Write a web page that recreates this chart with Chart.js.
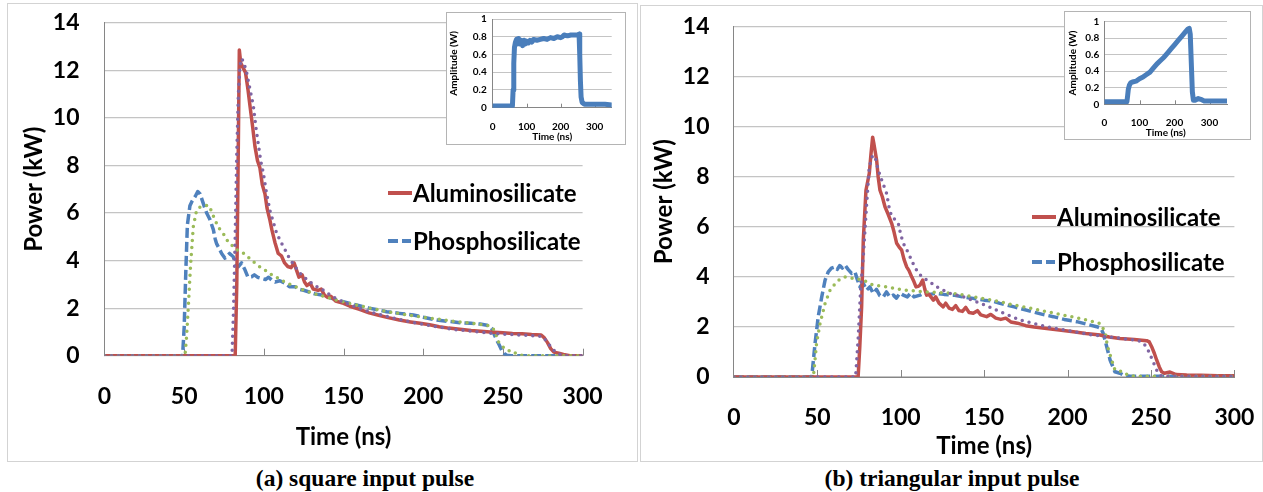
<!DOCTYPE html>
<html><head><meta charset="utf-8">
<script src="https://cdn.jsdelivr.net/npm/chart.js@4.4.1/dist/chart.umd.min.js"></script>
<style>
html,body{margin:0;padding:0;background:#fff;}
body{width:1263px;height:492px;position:relative;overflow:hidden;font-family:Lato,sans-serif;}
.frame{position:absolute;box-sizing:border-box;border:1.5px solid #d3d3d3;}
.inframe{position:absolute;box-sizing:border-box;border:1px solid #b4b4b4;background:#fff;}
canvas{position:absolute;}
.leg{position:absolute;font:bold 24px Lato;line-height:30px;height:30px;color:#000;white-space:nowrap;}
.ln{position:absolute;height:4px;}
.cap{position:absolute;font:bold 23.5px "Liberation Serif";text-align:center;width:400px;line-height:26px;color:#000;}
</style></head><body>
<div class="frame" style="left:7px;top:3px;width:631px;height:459px;"></div>
<div class="frame" style="left:640px;top:5px;width:623px;height:457px;"></div>
<canvas id="mainA" width="628" height="457" style="left:8px;top:4px;width:628px;height:457px;"></canvas>
<canvas id="mainB" width="621" height="456" style="left:641px;top:5px;width:621px;height:456px;"></canvas>
<div class="inframe" style="left:446px;top:12px;width:180px;height:133px;"></div>
<canvas id="insA" width="178" height="131" style="left:447px;top:13px;width:178px;height:131px;"></canvas>
<div class="inframe" style="left:1064px;top:11px;width:187px;height:129px;"></div>
<canvas id="insB" width="184" height="127" style="left:1065px;top:12px;width:184px;height:127px;"></canvas>

<div class="ln" style="left:388px;top:191px;width:24px;background:#C0504D;"></div>
<div class="leg" style="left:413px;top:178px;">Aluminosilicate</div>
<div class="ln" style="left:388px;top:239px;width:10px;background:#4F81BD;"></div>
<div class="ln" style="left:402px;top:239px;width:9px;background:#4F81BD;"></div>
<div class="leg" style="left:413px;top:226px;">Phosphosilicate</div>

<div class="ln" style="left:1032px;top:215px;width:24px;background:#C0504D;"></div>
<div class="leg" style="left:1057px;top:202px;">Aluminosilicate</div>
<div class="ln" style="left:1032px;top:260px;width:10px;background:#4F81BD;"></div>
<div class="ln" style="left:1046px;top:260px;width:9px;background:#4F81BD;"></div>
<div class="leg" style="left:1057px;top:247px;">Phosphosilicate</div>

<div class="cap" style="left:165px;top:465px;">(a) square input pulse</div>
<div class="cap" style="left:752px;top:465px;">(b) triangular input pulse</div>

<script>
// ---------- Panel (a): square input pulse ----------
const tA_al = [0,82,83,84,84.6,85.5,87,88.5,90,91.3,93,94.4,96,97.5,99,100.7,102,103.8,105,107,109,111,113,115,117,119,120.5,122,124,125.5,127,129,131,134,136,138,140,142,145,150,154,160,166,172,178,185,192,198,204,210,216,223,230,236,242,250,256,262,268,274,276,278,280,282,285,288,292,300];
const pA_al = [0,0,3,9,12.85,12.3,12.1,11.9,11.2,10.5,9.6,8.8,8.2,7.9,7.2,6.8,6.2,5.7,5.3,4.75,4.3,4.2,3.9,3.75,3.7,3.9,3.6,3.3,3.4,3.1,2.95,3.05,2.8,2.75,2.8,2.55,2.45,2.5,2.3,2.2,2.08,1.95,1.8,1.7,1.6,1.5,1.42,1.36,1.3,1.22,1.16,1.11,1.06,1.03,1.0,0.96,0.93,0.92,0.89,0.87,0.75,0.55,0.3,0.15,0.1,0.05,0,0];

const tA_alSim = [0,80,81,82,83,84,85,86.1,87.5,89.2,91,93.4,95,96.5,98,99.6,101.5,103.8,106,108,110.5,113.3,116,119.5,123,127.9,132,136.3,142.6,150,160,170,180,190,200,210,220,230,240,250,260,270,275,278,280,283,286,290,300];
const pA_alSim = [0,0,2,5,8.5,11,12.2,12.5,12.3,11.9,11.3,10.5,9.6,8.9,8.2,7.7,6.9,6.1,5.6,5.15,4.8,4.45,4.1,3.75,3.45,3.15,2.95,2.8,2.5,2.25,1.98,1.78,1.6,1.45,1.32,1.2,1.1,1.03,0.96,0.91,0.87,0.84,0.8,0.55,0.38,0.15,0.05,0,0];

const tA_ph = [0,49,50,51,52,53.6,55,57,58.5,60,61.5,63,64.1,66,68.3,69.5,70.4,72,73.5,75.6,77,78.5,80.8,82,84,86,88.2,90,92.3,94,96,98.6,101,103,104.9,107,110,113.3,116,119.5,122,125,127.9,132,136.3,142.6,148,154,160,166,172,177,185,193.8,200,208.4,215,223,230,235.6,240,242.9,244.5,246.1,247.7,249.2,251,252.4,255,300];
const pA_ph = [0,0,1.2,3.5,5.5,6.3,6.5,6.7,6.9,6.8,6.5,6.2,6.0,5.75,5.3,4.9,4.7,4.5,4.3,4.1,4.2,4.3,4.16,3.9,3.74,3.9,3.6,3.3,3.32,3.4,3.3,3.25,3.2,3.3,3.18,3.1,3.15,3.05,2.9,2.9,2.8,2.75,2.69,2.6,2.55,2.41,2.3,2.2,2.1,2.0,1.92,1.85,1.78,1.71,1.62,1.5,1.45,1.39,1.36,1.33,1.28,1.15,0.9,0.66,0.45,0.24,0.08,0.02,0,0];

const tA_phSim = [0,50.5,51.5,52.6,54,55.7,57.8,60,62.5,65.1,67,69.3,72,74.5,77,80.8,83,86.1,89,92.3,96,100.7,105,109.1,113,117.5,122,127.9,133,138.4,145,152,160,170,180,190,200,210,220,230,238,242,245,247,249,251,254,256.5,258,261,265,300];
const pA_phSim = [0,0,0.8,2.06,3.8,5.42,6.12,6.25,6.3,6.33,6.1,5.7,5.35,5.14,4.85,4.58,4.45,4.37,4.2,4.02,3.8,3.6,3.4,3.25,3.1,2.97,2.83,2.69,2.58,2.48,2.35,2.22,2.1,1.95,1.82,1.72,1.62,1.53,1.44,1.37,1.3,1.25,1.05,0.6,0.45,0.3,0.2,0.2,0.1,0.02,0,0];

const tA_in = [0,20,40,58,60,62,64,67,70,73,76,80,84,88,92,96,100,105,110,115,120,130,140,150,160,170,180,190,200,205,210,220,230,240,250,254,256,258,260,263,270,300,330,350];
const aA_in = [0.02,0.02,0.02,0.02,0.2,0.5,0.68,0.74,0.77,0.72,0.78,0.72,0.76,0.7,0.76,0.72,0.75,0.73,0.76,0.74,0.77,0.76,0.77,0.78,0.77,0.79,0.78,0.8,0.79,0.8,0.82,0.81,0.82,0.82,0.82,0.83,0.6,0.3,0.12,0.06,0.04,0.04,0.04,0.03];

// ---------- Panel (b): triangular input pulse ----------
const tB_al = [0,74.5,75.5,76.6,77.6,79.2,80.5,81.2,82.2,83.2,84,85.6,86.5,87.6,89,90.6,92.5,94.6,96,97.6,99,100.6,102,103.6,105,106.6,108,109.2,110.5,111.6,113.2,114.5,115.6,117,119.6,121,123,125.5,127,129,131,133,135,137,139,141,143.5,146,148,151.5,154,157,160,163,166,170,175,180,187.5,195,203.5,211,219.5,225,231.4,240,247.4,249,250.4,252,253.4,255,256.4,258,261.4,265,271.4,280,290,300];
const pB_al = [0,0,1.2,2.8,5.47,7.46,7.9,8.13,8.9,9.58,9.3,8.66,8.0,7.46,7.2,6.8,6.5,6.14,5.8,5.34,5.2,5.07,4.7,4.4,4.25,4.0,3.8,3.6,3.62,3.67,3.87,3.5,3.27,3.3,3.07,3.2,2.95,2.8,2.95,2.75,2.7,2.85,2.65,2.62,2.78,2.58,2.55,2.65,2.48,2.41,2.5,2.35,2.3,2.35,2.2,2.15,2.05,2.0,1.94,1.88,1.81,1.74,1.68,1.6,1.54,1.5,1.45,1.4,1.21,0.95,0.68,0.4,0.21,0.15,0.2,0.1,0.08,0.07,0.05,0.05];

const tB_alSim = [0,73,74.5,76,77.6,79.5,81.2,83.2,85,86.6,89,91.6,93,94.6,96.5,98.6,100,101.6,103.5,105.6,108,110.6,113,115.6,118.5,121.6,125,129.6,133,137.5,145.5,151.5,159.5,171.5,187.5,203.5,213,223.5,231,239.4,244,247.4,250.4,253.4,256,260,300];
const pB_alSim = [0,0,1.5,3.5,4.8,6.8,8.4,8.86,8.7,8.26,7.8,7.33,6.8,6.4,6.3,6.14,5.7,5.34,5.1,4.8,4.45,4.14,4.0,3.87,3.75,3.6,3.48,3.34,3.28,3.2,3.0,2.85,2.61,2.28,2.01,1.81,1.7,1.61,1.55,1.48,1.42,1.21,0.75,0.28,0.05,0.03,0.03];

const tB_ph = [0,46.7,48.7,50.6,52.7,54.7,56.6,58.5,60.6,62,63.5,65,66.6,68.5,70.6,72.6,74,75.6,77.5,79.6,81.5,83.6,85.5,87.5,89.6,91.5,93.5,95.6,97.5,99.5,101.6,104,106,108,111.6,114,117,121.6,126,131.6,137,143.5,150,155,159.5,168,177.5,185,191.5,198,205.5,212,217.5,220,221.4,223.5,225.5,228.4,231.4,234,237.4,300];
const pB_ph = [0,0,1.35,2.41,3.2,3.87,4.2,4.35,4.4,4.3,4.45,4.35,4.47,4.3,4.14,4.2,3.9,3.6,3.75,3.47,3.6,3.34,3.5,3.25,3.2,3.4,3.2,3.27,3.15,3.35,3.27,3.2,3.35,3.2,3.27,3.35,3.3,3.34,3.3,3.27,3.2,3.14,3.07,3.03,2.94,2.8,2.63,2.5,2.41,2.3,2.21,2.1,2.01,1.95,1.74,1.21,0.68,0.21,0.15,0.06,0.03,0.03];

const tB_phSim = [0,47.7,49.6,51.7,54.7,57.7,61.6,64,66.6,71.6,77.6,83.6,91.6,101.6,115.6,131.6,147.5,160,167.5,180,187.5,200,207.5,219.5,222.4,224,226.5,228.4,233.4,236,240,300];
const pB_phSim = [0,0,1.35,2.14,2.94,3.47,3.8,3.92,4.0,3.94,3.87,3.67,3.6,3.47,3.4,3.34,3.16,3.0,2.88,2.72,2.61,2.44,2.34,2.14,1.81,1.21,0.68,0.28,0.21,0.08,0.03,0.03];

const tB_in = [0,30,64,66,68,71,75,80,90,100,110,120,130,140,150,160,170,180,190,200,210,220,230,238,242,245,248,251,254,260,268,275,285,300,350];
const aB_in = [0.03,0.03,0.03,0.1,0.18,0.23,0.26,0.27,0.28,0.31,0.33,0.36,0.39,0.44,0.49,0.53,0.57,0.62,0.67,0.72,0.77,0.82,0.87,0.91,0.92,0.85,0.5,0.15,0.05,0.05,0.07,0.06,0.04,0.04,0.04];

// tick labels
const mainXTicks = [0,50,100,150,200,250,300];
const mainYTicks = [0,2,4,6,8,10,12,14];
const insetXTicks = [0,100,200,300];
const insetYTicks = [0,0.2,0.4,0.6,0.8,1];

// ---------- drawing ----------
Chart.defaults.font.family = 'Lato';
const AXIS = '#868686';
const insideTicks = {
  id:'insideTicks',
  beforeDatasetsDraw(chart, args, opts){
    const x = chart.scales.x, y = chart.scales.y, ctx = chart.ctx;
    ctx.save(); ctx.strokeStyle = AXIS; ctx.lineWidth = 1;
    x.ticks.forEach(t=>{
      if (t.value === x.min) return;
      const px = Math.round(x.getPixelForValue(t.value)) + 0.5;
      ctx.beginPath(); ctx.moveTo(px, y.bottom); ctx.lineTo(px, y.bottom - opts.len); ctx.stroke();
    });
    ctx.restore();
  }
};
function pts(T,V){ return T.map((t,i)=>({x:t,y:V[i]})); }
function ds(T,V,color,kind){
  const d = {data:pts(T,V), borderColor:color, backgroundColor:color, pointRadius:0, borderWidth:3.5, fill:false, tension:0, borderJoinStyle:'round'};
  if (kind==='dash') d.borderDash = [10,4];
  if (kind==='dot') { d.borderDash = [0,7]; d.borderCapStyle = 'round'; }
  return d;
}
function tickList(list){ return s => { s.ticks = list.map(v=>({value:v})); }; }
function fixX(h){ return s => { s.height = h; s.paddingLeft = 0; s.paddingRight = 0; s.paddingTop = 0; s.paddingBottom = 0; }; }
function fixY(w){ return s => { s.width = w; s.paddingLeft = 0; s.paddingRight = 0; s.paddingTop = 0; s.paddingBottom = 0; }; }
const fmt = v => String(Math.round(v*10)/10);

function mainChart(id, sets, g){
  return new Chart(document.getElementById(id), {
    type:'line', data:{datasets:sets},
    options:{
      responsive:false, animation:false, events:[],
      layout:{padding:{left:0, top:g.padTop, right:g.padRight, bottom:0}},
      plugins:{legend:{display:false}, tooltip:{enabled:false}, insideTicks:{len:7}},
      scales:{
        x:{type:'linear', min:0, max:300, afterBuildTicks:tickList(mainXTicks),
           ticks:{padding:g.xTickPad, color:'#000', font:{size:23, weight:'bold'}, maxRotation:0, autoSkip:false, callback:fmt},
           grid:{display:false, drawTicks:false}, border:{display:true, color:AXIS, width:1},
           title:{display:true, text:'Time (ns)', color:'#000', font:{size:24, weight:'bold'}, padding:{top:0, bottom:g.xTitlePad}},
           afterFit:fixX(g.xH)},
        y:{type:'linear', min:0, max:14, afterBuildTicks:tickList(mainYTicks),
           ticks:{padding:g.yTickPad, color:'#000', font:{size:23, weight:'bold'}, callback:fmt},
           grid:{color:'#c4c4c4', lineWidth:1.2, drawTicks:false}, border:{display:true, color:AXIS, width:1},
           title:{display:true, text:'Power (kW)', color:'#000', font:{size:24, weight:'bold'}, padding:{top:g.yTitlePad, bottom:0}},
           afterFit:fixY(g.yW)}
      }
    },
    plugins:[insideTicks]
  });
}
function insetChart(id, T, V, g){
  return new Chart(document.getElementById(id), {
    type:'line', data:{datasets:[{data:pts(T,V), borderColor:'#4A7EBB', borderWidth:5, pointRadius:0, tension:0, borderJoinStyle:'round', borderCapStyle:'round'}]},
    options:{
      responsive:false, animation:false, events:[],
      layout:{padding:{left:0, top:g.padTop, right:g.padRight, bottom:0}},
      plugins:{legend:{display:false}, tooltip:{enabled:false}, insideTicks:{len:4}},
      scales:{
        x:{type:'linear', min:0, max:350, afterBuildTicks:tickList(insetXTicks),
           ticks:{padding:g.xTickPad, color:'#000', font:{size:10, weight:'bold'}, maxRotation:0, autoSkip:false, callback:fmt},
           grid:{display:false, drawTicks:false}, border:{display:true, color:AXIS, width:1},
           title:{display:true, text:'Time (ns)', color:'#000', font:{size:10, weight:'bold'}, padding:{top:0, bottom:g.xTitlePad}},
           afterFit:fixX(g.xH)},
        y:{type:'linear', min:0, max:1, afterBuildTicks:tickList(insetYTicks),
           ticks:{padding:g.yTickPad, color:'#000', font:{size:10, weight:'bold'}, callback:fmt},
           grid:{color:'#c4c4c4', lineWidth:1, drawTicks:false}, border:{display:true, color:AXIS, width:1},
           title:{display:true, text:'Amplitude (W)', color:'#000', font:{size:10, weight:'bold'}, padding:{top:g.yTitlePad, bottom:0}},
           afterFit:fixY(g.yW)}
      }
    },
    plugins:[insideTicks]
  });
}

const RED='#C0504D', BLUE='#4F81BD', PURPLE='#8064A2', GREEN='#9BBB59';
mainChart('mainA', [
  ds(tA_alSim,pA_alSim,PURPLE,'dot'), ds(tA_phSim,pA_phSim,GREEN,'dot'),
  ds(tA_al,pA_al,RED,'solid'), ds(tA_ph,pA_ph,BLUE,'dash')
], {padTop:18.7, padRight:53.4, yW:96.5, xH:105.3, xTickPad:27.5, xTitlePad:9.6, yTickPad:25, yTitlePad:11.6});
mainChart('mainB', [
  ds(tB_alSim,pB_alSim,PURPLE,'dot'), ds(tB_phSim,pB_phSim,GREEN,'dot'),
  ds(tB_al,pB_al,RED,'solid'), ds(tB_ph,pB_ph,BLUE,'dash')
], {padTop:21.5, padRight:27.6, yW:92.8, xH:84, xTickPad:27.2, xTitlePad:0, yTickPad:24.3, yTitlePad:8.6});
insetChart('insA', tA_in, aA_in, {padTop:6, padRight:13.3, yW:45.7, xH:36.3, xTickPad:13, xTitlePad:1, yTickPad:6, yTitlePad:1});
insetChart('insB', tB_in, aB_in, {padTop:9.7, padRight:22, yW:39.5, xH:34.7, xTickPad:12, xTitlePad:0.3, yTickPad:5.2, yTitlePad:2});
</script>
</body></html>
